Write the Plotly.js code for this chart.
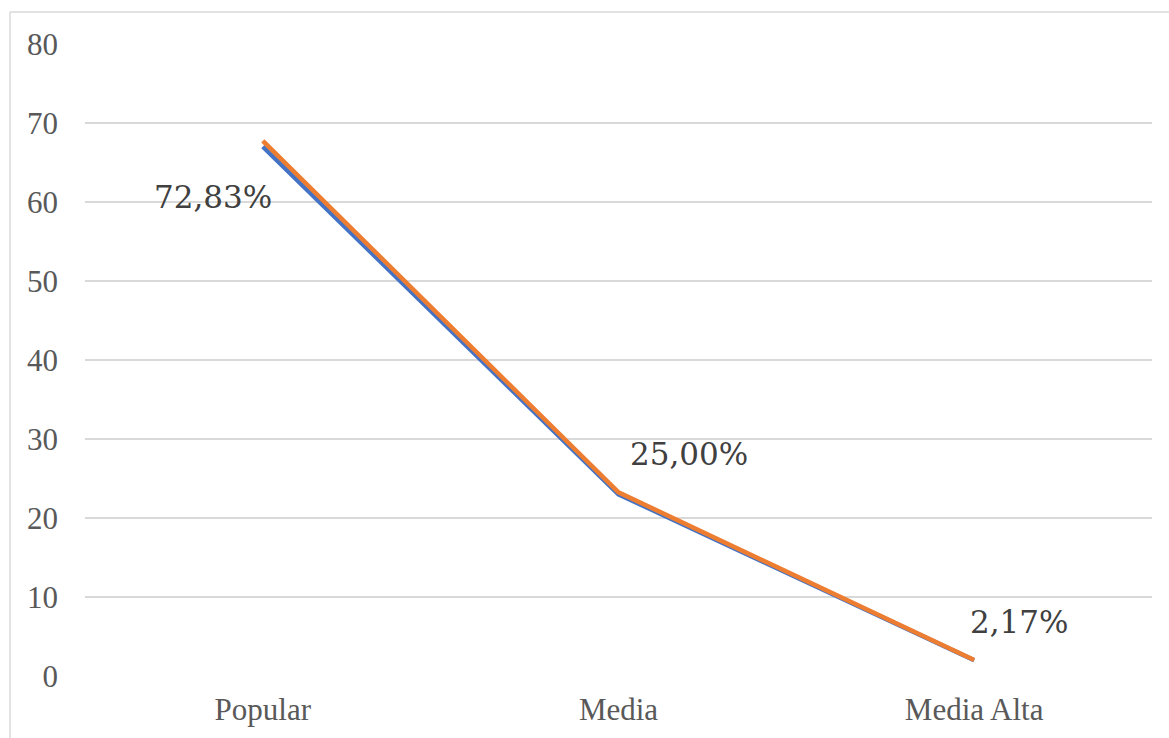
<!DOCTYPE html>
<html>
<head>
<meta charset="utf-8">
<script src="https://cdn.plot.ly/plotly-3.0.1.min.js"></script>
<style>html,body{margin:0;padding:0;background:#fff;}#chart{width:1169px;height:738px;}</style>
</head>
<body>
<div id="chart"></div>
<script>
const categories = ["Popular", "Media", "Media Alta"];
const countValues = [67, 23, 2];
const combinedValues = [67.73, 23.25, 2.02];
const percentLabels = ["72,83%", "25,00%", "2,17%"];
const labelShiftX = [-50, 70, 45];
const labelShiftY = [-50, 40, 38];
const yTicks = [0, 10, 20, 30, 40, 50, 60, 70, 80];

const font = "Liberation Serif";
const font2 = "DejaVu Serif";

const traces = [
  {x: categories, y: countValues, type: "scatter", mode: "lines",
   line: {color: "#4472C4", width: 4.5}, hoverinfo: "none"},
  {x: categories, y: combinedValues, type: "scatter", mode: "lines",
   line: {color: "#ED7D31", width: 4.5}, hoverinfo: "none"}
];

const annotations = categories.map((c, i) => ({
  x: c, y: countValues[i], xref: "x", yref: "y",
  text: percentLabels[i], showarrow: false,
  xanchor: "center", yanchor: "middle",
  xshift: labelShiftX[i], yshift: labelShiftY[i],
  font: {family: font2, size: 31, color: "#404040"}
}));

const layout = {
  width: 1169, height: 738,
  margin: {l: 85, r: 17, t: 44, b: 62},
  paper_bgcolor: "#ffffff", plot_bgcolor: "#ffffff",
  showlegend: false,
  xaxis: {type: "category", range: [-0.5, 2.5], showgrid: false, zeroline: false,
          showline: false, ticks: "", ticklabelstandoff: 12,
          tickfont: {family: font, size: 31, color: "#595959"}},
  yaxis: {range: [0, 80], tickvals: yTicks, showgrid: true, gridcolor: "#d9d9d9",
          gridwidth: 1.5, zeroline: false, showline: false, ticks: "",
          ticklabelstandoff: 26,
          tickfont: {family: font, size: 31, color: "#595959"}},
  annotations: annotations,
  shapes: [
    {type: "line", xref: "paper", yref: "paper", x0: -0.0703, x1: 1.02, y0: 1.0507, y1: 1.0507,
     line: {color: "#d9d9d9", width: 1.5}},
    {type: "line", xref: "paper", yref: "paper", x0: -0.0703, x1: -0.0703, y0: 1.0507, y1: -0.2,
     line: {color: "#d9d9d9", width: 1.5}}
  ]
};

Plotly.newPlot("chart", traces, layout, {staticPlot: true, displayModeBar: false});
</script>
</body>
</html>
